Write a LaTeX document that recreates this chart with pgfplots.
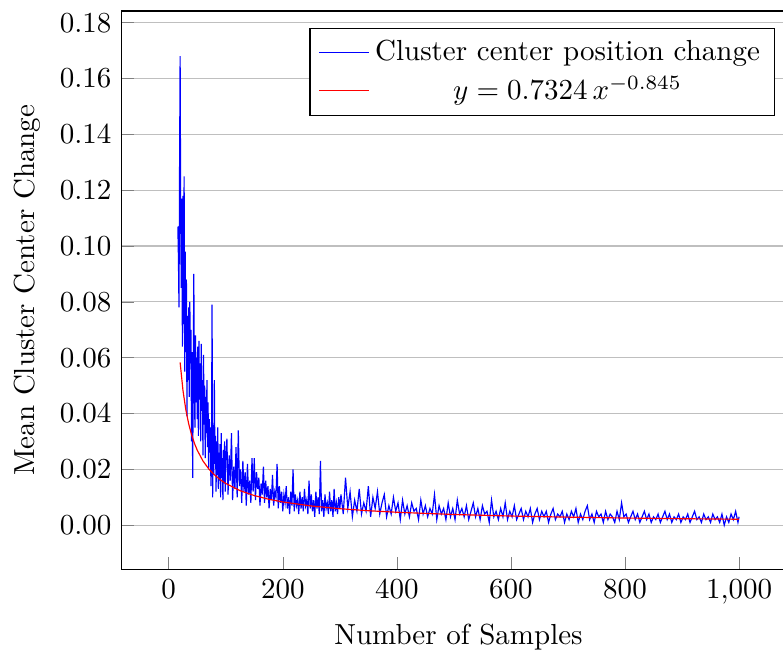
\documentclass[border=0pt]{standalone}
\usepackage{pgfplots}
\pgfplotsset{compat=1.18}
\begin{document}
\begin{tikzpicture}
\begin{axis}[
  scale only axis,
  width=232.2pt, height=192.6pt,
  xmin=-82.4, xmax=1098.4,
  ymin=-0.0159, ymax=0.1842,
  xtick={0,200,400,600,800,1000},
  ytick={0,0.02,0.04,0.06,0.08,0.10,0.12,0.14,0.16,0.18},
  yticklabel style={/pgf/number format/fixed,/pgf/number format/precision=2,/pgf/number format/fixed zerofill},
  scaled y ticks=false,
  xtick pos=bottom, ytick pos=left,
  ymajorgrids,
  xlabel={Number of Samples},
  ylabel={Mean Cluster Center Change},
  legend pos=north east,
  legend style={fill=white, draw=black},
]
\addlegendimage{color=blue, line width=0.4pt}
\addlegendentry{Cluster center position change}
\addlegendimage{color=red, line width=0.4pt}
\addlegendentry{$y = 0.7324\,x^{-0.845}$}
\addplot[color=blue, forget plot] coordinates {
(16,0.107)(17,0.096)(18,0.078)(19,0.127)(20,0.168)(21,0.110)(22,0.085)(23,0.117)(24,0.064)(25,0.118)
(26,0.072)(27,0.125)(28,0.055)(29,0.098)(30,0.062)(31,0.088)(32,0.039)(33,0.075)(34,0.052)(35,0.078)
(36,0.046)(37,0.080)(38,0.058)(39,0.070)(40,0.030)(41,0.062)(42,0.017)(43,0.055)(44,0.090)(45,0.048)
(46,0.035)(47,0.068)(48,0.044)(49,0.060)(50,0.038)(51,0.064)(52,0.032)(53,0.066)(54,0.045)(55,0.058)
(56,0.030)(57,0.065)(58,0.041)(59,0.052)(60,0.025)(61,0.061)(62,0.036)(63,0.050)(64,0.024)(65,0.046)
(66,0.033)(67,0.052)(68,0.028)(69,0.044)(70,0.020)(71,0.038)(72,0.026)(73,0.035)(74,0.014)(75,0.030)
(76,0.079)(77,0.010)(78,0.035)(79,0.018)(80,0.052)(81,0.022)(82,0.032)(83,0.012)(84,0.030)(85,0.018)
(86,0.035)(87,0.013)(88,0.026)(89,0.016)(90,0.029)(91,0.010)(92,0.033)(93,0.017)(94,0.024)(95,0.009)
(96,0.027)(97,0.015)(98,0.030)(99,0.012)(100,0.022)
(102,0.031)(104,0.011)(106,0.025)(108,0.016)(110,0.033)(112,0.009)(114,0.021)(116,0.013)(118,0.028)(120,0.010)
(122,0.034)(124,0.014)(126,0.020)(128,0.008)(130,0.023)(132,0.012)(134,0.019)(136,0.007)(138,0.022)(140,0.011)
(142,0.016)(144,0.008)(146,0.024)(148,0.012)(150,0.024)(152,0.009)(154,0.019)(156,0.013)(158,0.017)(160,0.007)
(162,0.015)(164,0.011)(166,0.021)(168,0.008)(170,0.016)(172,0.010)(174,0.014)(176,0.006)(178,0.013)(180,0.009)
(182,0.018)(184,0.007)(186,0.012)(188,0.010)(190,0.022)(192,0.006)(194,0.014)(196,0.008)(198,0.012)(200,0.005)
(202,0.011)(204,0.008)(206,0.014)(208,0.006)(210,0.010)(212,0.004)(214,0.012)(216,0.007)(218,0.020)(220,0.005)
(222,0.011)(224,0.007)(226,0.009)(228,0.004)(230,0.012)(232,0.006)(234,0.010)(236,0.005)(238,0.013)(240,0.007)
(242,0.009)(244,0.004)(246,0.016)(248,0.006)(250,0.011)(252,0.005)(254,0.009)(256,0.003)(258,0.012)(260,0.006)
(262,0.010)(264,0.004)(266,0.023)(268,0.005)(270,0.009)(272,0.003)(274,0.011)(276,0.006)(278,0.008)(280,0.004)
(282,0.012)(284,0.005)(286,0.009)(288,0.003)(290,0.013)(292,0.005)(294,0.008)(296,0.004)(298,0.010)(300,0.006)
(302,0.011)(306,0.004)(310,0.017)(314,0.006)(318,0.012)(322,0.003)(326,0.009)(330,0.005)(334,0.013)(338,0.004)
(342,0.008)(346,0.005)(350,0.014)(354,0.003)(358,0.010)(362,0.006)(366,0.012)(370,0.004)(374,0.008)(378,0.011)
(382,0.003)(386,0.007)(390,0.004)(394,0.010)(398,0.005)(402,0.008)(406,0.002)(410,0.009)(414,0.004)(418,0.007)
(422,0.003)(426,0.008)(430,0.005)(434,0.006)(438,0.002)(442,0.009)(446,0.004)(450,0.007)(454,0.003)(458,0.006)
(462,0.004)(466,0.011)(470,0.002)(474,0.007)(478,0.004)(482,0.006)(486,0.002)(490,0.008)(494,0.003)(498,0.006)
(502,0.002)(506,0.009)(510,0.004)(514,0.006)(518,0.003)(522,0.007)(526,0.002)(530,0.005)(534,0.008)(538,0.003)
(542,0.006)(546,0.002)(550,0.007)(554,0.004)(558,0.005)(562,0.001)(566,0.009)(570,0.003)(574,0.005)(578,0.002)
(582,0.006)(586,0.003)(590,0.008)(594,0.002)(598,0.005)(602,0.003)(606,0.007)(610,0.002)(614,0.004)(618,0.006)
(622,0.002)(626,0.005)(630,0.003)(634,0.006)(638,0.001)(642,0.004)(646,0.006)(650,0.002)(654,0.005)(658,0.003)
(662,0.005)(666,0.001)(670,0.004)(674,0.006)(678,0.002)(682,0.004)(686,0.003)(690,0.005)(694,0.001)(698,0.004)
(702,0.002)(706,0.005)(710,0.003)(714,0.006)(718,0.001)(722,0.004)(726,0.002)(730,0.005)(734,0.007)(738,0.002)
(742,0.004)(746,0.001)(750,0.005)(754,0.003)(758,0.004)(762,0.001)(766,0.005)(770,0.002)(774,0.004)(778,0.003)
(782,0.001)(786,0.005)(790,0.002)(794,0.008)(798,0.003)(802,0.004)(806,0.001)(810,0.003)(814,0.005)(818,0.002)
(822,0.004)(826,0.001)(830,0.003)(834,0.005)(838,0.002)(842,0.004)(846,0.001)(850,0.003)(854,0.002)(858,0.004)
(862,0.001)(866,0.003)(870,0.005)(874,0.002)(878,0.004)(882,0.001)(886,0.003)(890,0.002)(894,0.004)(898,0.001)
(902,0.003)(906,0.002)(910,0.004)(914,0.001)(918,0.003)(922,0.005)(926,0.002)(930,0.003)(934,0.001)(938,0.004)
(942,0.002)(946,0.003)(950,0.001)(954,0.004)(958,0.002)(962,0.003)(966,0.001)(970,0.004)(974,0.000)(978,0.003)
(982,0.001)(986,0.004)(990,0.002)(994,0.005)(998,0.001)(1000,0.003)
};
\addplot[color=red, forget plot] coordinates {
(20,0.0583)(25,0.04825)(30,0.04137)(35,0.03631)(40,0.03244)(45,0.02937)(50,0.02687)(60,0.02303)
(70,0.02022)(80,0.01806)(90,0.01635)(100,0.01496)(125,0.01238)(150,0.01062)(175,0.00932)(200,0.00833)
(250,0.00689)(300,0.00591)(350,0.00519)(400,0.00464)(500,0.00384)(600,0.00329)(700,0.00289)
(800,0.00258)(900,0.00233)(1000,0.00214)
};
\coordinate (sw) at (rel axis cs:0,0);
\coordinate (ne) at (rel axis cs:1,1);
\end{axis}
\pgfresetboundingbox
\path[use as bounding box] ([shift={(-41.97pt,-28.45pt)}]sw) rectangle ([shift={(-4.2pt,3.79pt)}]ne);
\end{tikzpicture}
\end{document}
